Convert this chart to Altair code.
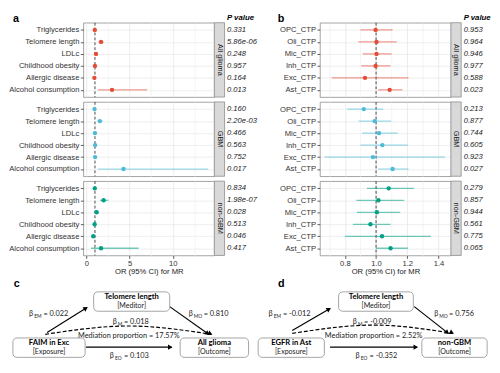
import math
import altair as alt
import pandas as pd

FONT = "Liberation Sans"
DFONT = "Lato, Liberation Sans"
outcomes = ["All glioma", "GBM", "non-GBM"]
colors = ["#E64B35", "#4DBBD5", "#00A087"]

# ---------------- Panel a ----------------
exposures_a = ["Triglycerides", "Telomere length", "LDLc", "Childhood obesity",
               "Allergic disease", "Alcohol consumption"]
or_a_all = [0.98, 1.70, 1.12, 1.00, 0.93, 2.97]
lo_a_all = [0.90, 1.42, 1.02, 0.93, 0.86, 1.34]
hi_a_all = [1.06, 2.00, 1.23, 1.08, 1.01, 7.03]
p_a_all = ["0.331", "5.86e-06", "0.248", "0.957", "0.164", "0.013"]
or_a_gbm = [0.95, 1.56, 1.00, 1.02, 1.02, 4.30]
lo_a_gbm = [0.87, 1.30, 0.90, 0.92, 0.93, 1.34]
hi_a_gbm = [1.04, 1.90, 1.10, 1.12, 1.11, 14.1]
p_a_gbm = ["0.160", "2.20e-03", "0.466", "0.563", "0.752", "0.017"]
or_a_non = [0.98, 2.00, 1.20, 0.96, 0.80, 1.70]
lo_a_non = [0.91, 1.58, 1.07, 0.88, 0.68, 0.55]
hi_a_non = [1.06, 2.55, 1.35, 1.05, 0.94, 6.05]
p_a_non = ["0.834", "1.98e-07", "0.028", "0.513", "0.046", "0.417"]

# ---------------- Panel b ----------------
cells_b = ["OPC_CTP", "Oli_CTP", "Mic_CTP", "Inh_CTP", "Exc_CTP", "Ast_CTP"]
or_b_all = [0.997, 1.003, 1.003, 0.997, 0.929, 1.087]
lo_b_all = [0.900, 0.886, 0.915, 0.905, 0.716, 1.013]
hi_b_all = [1.106, 1.132, 1.100, 1.093, 1.208, 1.169]
p_b_all = ["0.953", "0.964", "0.946", "0.977", "0.588", "0.023"]
or_b_gbm = [0.921, 0.991, 1.019, 1.040, 0.980, 1.106]
lo_b_gbm = [0.814, 0.888, 0.911, 0.900, 0.671, 1.013]
hi_b_gbm = [1.046, 1.097, 1.140, 1.204, 1.442, 1.208]
p_b_gbm = ["0.213", "0.877", "0.744", "0.605", "0.923", "0.027"]
or_b_non = [1.081, 1.015, 1.005, 0.964, 1.038, 1.093]
lo_b_non = [0.942, 0.874, 0.876, 0.851, 0.800, 0.999]
hi_b_non = [1.243, 1.180, 1.155, 1.093, 1.352, 1.204]
p_b_non = ["0.279", "0.857", "0.944", "0.561", "0.775", "0.065"]

# ---------------- Panel c (diagram) ----------------
c_box_title = ["Telomere length", "FAIM in Exc", "All glioma"]
c_box_role = ["[Meditor]", "[Exposure]", "[Outcome]"]
c_box_x1 = [86, 1, 177]
c_box_x2 = [166, 77, 249]
c_box_y1 = [297, 347, 347]
c_box_y2 = [318, 368, 368]
c_arr_x1 = [37, 166, 78]
c_arr_y1 = [341, 313, 357]
c_arr_x2 = [79, 207, 168]
c_arr_y2 = [314, 343, 357]
c_arc_x = [35, 123, 210]
c_arc_y = [343, 334, 343]
c_beta_sub = ["EM", "MO", "M", "EO"]
c_beta_val = ["= 0.022", "= 0.810", "= 0.018", "= 0.103"]
c_beta_x = [18, 186, 106, 103]
c_beta_y = [321, 321, 330, 367]
c_med_text = "Mediation proportion = 17.57%"
c_med_x, c_med_y = 123, 345

# ---------------- Panel d (diagram) ----------------
d_box_title = ["Telomere length", "EGFR in Ast", "non-GBM"]
d_box_role = ["[Meditor]", "[Exposure]", "[Outcome]"]
d_box_x1 = [342, 257, 430]
d_box_x2 = [421, 327, 499]
d_box_y1 = [297, 347, 347]
d_box_y2 = [318, 368, 368]
d_arr_x1 = [293, 422, 333]
d_arr_y1 = [339, 313, 357]
d_arr_x2 = [333, 458, 425]
d_arr_y2 = [315, 342, 357]
d_arc_x = [293, 379, 463]
d_arc_y = [342, 333, 342]
d_beta_sub = ["EM", "MO", "M", "EO"]
d_beta_val = ["= -0.012", "= 0.756", "= -0.009", "= -0.352"]
d_beta_x = [268, 443, 357, 360]
d_beta_y = [321, 321, 330, 367]
d_med_text = "Mediation proportion = 2.52%"
d_med_x, d_med_y = 379, 345

H = 76


def forest_row(cats, o, l, h, p, outcome, idx, xdom, grid_vals, major_test, label_expr,
               W, letter, letter_x):
    df = pd.DataFrame({"cat": cats, "or": o, "lo": l, "hi": h, "p": p,
                       "outcome": [outcome] * len(cats)})
    last = idx == len(outcomes) - 1
    color = alt.Color("outcome:N", scale=alt.Scale(domain=outcomes, range=colors), legend=None)
    xs = alt.Scale(domain=xdom, nice=False, zero=False)
    grid_col = {"condition": {"test": major_test, "value": "#E3E3E3"}, "value": "#F1F1F1"}
    if last:
        xaxis = alt.Axis(
            title="OR (95% CI) for MR", values=grid_vals, labelExpr=label_expr,
            tickColor={"condition": {"test": major_test, "value": "#333333"},
                       "value": "transparent"},
            gridColor=grid_col, gridWidth=0.7, tickSize=3, tickWidth=0.8,
            labelPadding=1, titlePadding=1, domain=False)
    else:
        xaxis = alt.Axis(title=None, values=grid_vals, labels=False, ticks=False,
                         gridColor=grid_col, gridWidth=0.7, domain=False)
    yenc = alt.Y("cat:N", sort=cats, scale=alt.Scale(type="point", padding=0.6),
                 axis=alt.Axis(title=None, grid=True, gridColor="#E8E8E8", gridWidth=0.7,
                               tickSize=3, tickWidth=0.8, tickColor="#333333",
                               labelPadding=1.5, domain=False))
    one = f"datum.cat == '{cats[0]}'"
    ref = alt.Chart(df).transform_filter(one).transform_calculate(ref="1").mark_rule(
        color="#333333", strokeDash=[3, 2], strokeWidth=0.9).encode(
        x=alt.X("ref:Q", scale=xs, axis=xaxis))
    ci = alt.Chart(df).mark_rule(strokeWidth=1.3, opacity=0.55).encode(
        x=alt.X("lo:Q", scale=xs, axis=xaxis), x2="hi:Q", y=yenc, color=color)
    pts = alt.Chart(df).mark_circle(size=20, opacity=1).encode(
        x=alt.X("or:Q", scale=xs, axis=xaxis), y=yenc, color=color)
    strip = alt.Chart(df).transform_filter(one).mark_rect(
        fill="#D9D9D9", stroke="#8C8C8C", strokeWidth=0.8).encode(
        x=alt.value(W), x2=alt.value(W + 10.5), y=alt.value(0), y2=alt.value(H))
    strip_t = alt.Chart(df).transform_filter(one).mark_text(
        angle=90, fontSize=7.5, color="#1A1A1A").encode(
        x=alt.value(W + 5.5), y=alt.value(H / 2), text="outcome:N")
    ptxt = alt.Chart(df).mark_text(align="left", fontStyle="italic", fontSize=7.8,
                                   color="#1A1A1A").encode(
        x=alt.value(W + 13), y=yenc, text="p:N")
    layers = [ref, ci, pts, strip, strip_t, ptxt]
    if idx == 0:
        layers.append(alt.Chart(df).transform_filter(one).mark_text(
            align="left", fontStyle="italic", fontWeight="bold", fontSize=8,
            color="black").encode(
            x=alt.value(W + 13), y=alt.value(-5), text=alt.value("P value")))
        layers.append(alt.Chart(df).transform_filter(one).mark_text(
            align="left", fontWeight="bold", fontSize=11, color="black").encode(
            x=alt.value(letter_x), y=alt.value(-4), text=alt.value(letter)))
    return alt.layer(*layers).properties(width=W, height=H)


def forest(cats, groups, xdom, grid_vals, major_test, label_expr, W, letter, letter_x):
    rows = [forest_row(cats, o, l, h, p, oc, i, xdom, grid_vals, major_test, label_expr,
                       W, letter, letter_x)
            for i, (oc, (o, l, h, p)) in enumerate(zip(outcomes, groups))]
    return alt.vconcat(*rows, spacing=3)


panel_a = forest(exposures_a, [(or_a_all, lo_a_all, hi_a_all, p_a_all),
                               (or_a_gbm, lo_a_gbm, hi_a_gbm, p_a_gbm),
                               (or_a_non, lo_a_non, hi_a_non, p_a_non)],
                 [-0.35, 14.8], [0, 2.5, 5, 7.5, 10, 12.5],
                 "datum.value % 5 == 0", "datum.value % 5 == 0 ? datum.label : ''",
                 134, "a", -72)
panel_b = forest(cells_b, [(or_b_all, lo_b_all, hi_b_all, p_b_all),
                           (or_b_gbm, lo_b_gbm, hi_b_gbm, p_b_gbm),
                           (or_b_non, lo_b_non, hi_b_non, p_b_non)],
                 [0.64, 1.48], [0.7, 0.8, 0.9, 1.0, 1.1, 1.2, 1.3, 1.4],
                 "round(datum.value * 10) % 2 == 0",
                 "round(datum.value * 10) % 2 == 0 ? format(datum.value, '.1f') : ''",
                 134, "b", -43)

SUBW = {"EM": 7.8, "MO": 8.4, "M": 4.5, "EO": 7.4}
HD = 83


def diagram(letter, letter_x, xdom, W, titles, roles, bx1, bx2, by1, by2,
            ax1, ay1, ax2, ay2, arcx, arcy, bsub, bval, bx, byy, med, medx, medy):
    xs = alt.Scale(domain=xdom, nice=False, zero=False)
    ys = alt.Scale(domain=[284, 372], nice=False, zero=False, reverse=True)
    boxes = pd.DataFrame({"title": titles, "role": roles, "x1": bx1, "x2": bx2,
                          "y1": by1, "y2": by2})
    boxes["cx"] = (boxes.x1 + boxes.x2) / 2
    boxes["ty"] = boxes.y1 + 6
    boxes["ry"] = boxes.y1 + 15.5
    arrows = pd.DataFrame({"x1": ax1, "y1": ay1, "x2": ax2, "y2": ay2})
    arc = pd.DataFrame({"x": arcx, "y": arcy, "i": list(range(len(arcx)))})
    heads = []
    ends = list(zip(ax1, ay1, ax2, ay2)) + [(arcx[-1] - 12, arcy[-1] - 6,
                                              arcx[-1], arcy[-1])]
    for x1, y1, x2, y2 in ends:
        dx, dy = x2 - x1, y2 - y1
        L = math.hypot(dx, dy)
        ux, uy = dx / L, dy / L
        ang = math.degrees(math.atan2(dx, -dy)) % 360
        heads.append({"x": x2 - 2.2 * ux, "y": y2 - 2.2 * uy, "ang": ang})
    heads = pd.DataFrame(heads)
    betas = pd.DataFrame({"sub": bsub, "val": bval, "bx": bx, "by": byy})
    betas["sx"] = betas.bx + 5.4
    betas["rx"] = betas.bx + 5.4 + betas["sub"].map(SUBW) + 2.0
    betas["sy"] = betas.by + 2.2
    texts = pd.DataFrame({"t": [med, letter], "x": [medx, letter_x], "y": [medy, 289]})

    X = lambda f: alt.X(f, scale=xs, axis=None)
    Y = lambda f: alt.Y(f, scale=ys, axis=None)
    l_box = alt.Chart(boxes).mark_rect(fill="white", stroke="#9A9A9A", strokeWidth=0.9,
                                       cornerRadius=4).encode(
        x=X("x1:Q"), x2="x2:Q", y=Y("y1:Q"), y2="y2:Q")
    l_title = alt.Chart(boxes).mark_text(font=DFONT, fontWeight="bold", fontSize=7.8,
                                         color="black").encode(
        x=X("cx:Q"), y=Y("ty:Q"), text="title:N")
    l_role = alt.Chart(boxes).mark_text(font=DFONT, fontSize=7.2, color="#222222").encode(
        x=X("cx:Q"), y=Y("ry:Q"), text="role:N")
    l_arr = alt.Chart(arrows).mark_rule(strokeWidth=1.2, color="black").encode(
        x=X("x1:Q"), y=Y("y1:Q"), x2="x2:Q", y2="y2:Q")
    l_arc = alt.Chart(arc).mark_line(interpolate="natural", strokeDash=[4, 2],
                                     strokeWidth=1.2, color="black").encode(
        x=X("x:Q"), y=Y("y:Q"), order="i:O")
    l_head = alt.Chart(heads).mark_point(shape="triangle", filled=True, size=28,
                                         color="black", opacity=1).encode(
        x=X("x:Q"), y=Y("y:Q"), angle=alt.Angle("ang:Q", scale=None))
    l_b = alt.Chart(betas).mark_text(font=DFONT, fontSize=7.5, align="left",
                                     color="#222222").encode(
        x=X("bx:Q"), y=Y("by:Q"), text=alt.value("β"))
    l_s = alt.Chart(betas).mark_text(font=DFONT, fontSize=5, align="left",
                                     color="#222222").encode(
        x=X("sx:Q"), y=Y("sy:Q"), text="sub:N")
    l_r = alt.Chart(betas).mark_text(font=DFONT, fontSize=7.5, align="left",
                                     color="#222222").encode(
        x=X("rx:Q"), y=Y("by:Q"), text="val:N")
    l_med = alt.Chart(texts.iloc[[0]]).mark_text(font=DFONT, fontSize=7.5,
                                                 color="#222222").encode(
        x=X("x:Q"), y=Y("y:Q"), text="t:N")
    l_let = alt.Chart(texts.iloc[[1]]).mark_text(font=FONT, fontSize=11, fontWeight="bold",
                                                 align="left", color="black").encode(
        x=X("x:Q"), y=Y("y:Q"), text="t:N")
    return alt.layer(l_arc, l_arr, l_head, l_box, l_title, l_role, l_b, l_s, l_r,
                     l_med, l_let).properties(
        width=W, height=HD, view=alt.ViewBackground(stroke="transparent"))


# panel c's plot origin lines up with panel a's plot; its scale reaches back to the page edge
panel_c = diagram("c", 2, [75.08, 250], 170, c_box_title, c_box_role, c_box_x1, c_box_x2,
                  c_box_y1, c_box_y2, c_arr_x1, c_arr_y1, c_arr_x2, c_arr_y2,
                  c_arc_x, c_arc_y, c_beta_sub, c_beta_val, c_beta_x, c_beta_y,
                  c_med_text, c_med_x, c_med_y)
panel_d = diagram("d", 278, [252, 500], 240, d_box_title, d_box_role, d_box_x1, d_box_x2,
                  d_box_y1, d_box_y2, d_arr_x1, d_arr_y1, d_arr_x2, d_arr_y2,
                  d_arc_x, d_arc_y, d_beta_sub, d_beta_val, d_beta_x, d_beta_y,
                  d_med_text, d_med_x, d_med_y)

top = alt.hconcat(panel_a, panel_b, spacing=19)
bottom = alt.hconcat(panel_c, panel_d, spacing=2)
chart = alt.vconcat(top, bottom, spacing=2).properties(
    padding=0, background="white").configure_view(
    stroke="#8C8C8C", strokeWidth=0.8).configure_axis(
    labelFont=FONT, titleFont=FONT, labelFontSize=7.8, titleFontSize=7.8,
    titleFontWeight="normal", labelColor="#333333", titleColor="#1A1A1A").configure_text(
    font=FONT)

chart.save("out.html", embed_options={"renderer": "svg", "actions": False})
